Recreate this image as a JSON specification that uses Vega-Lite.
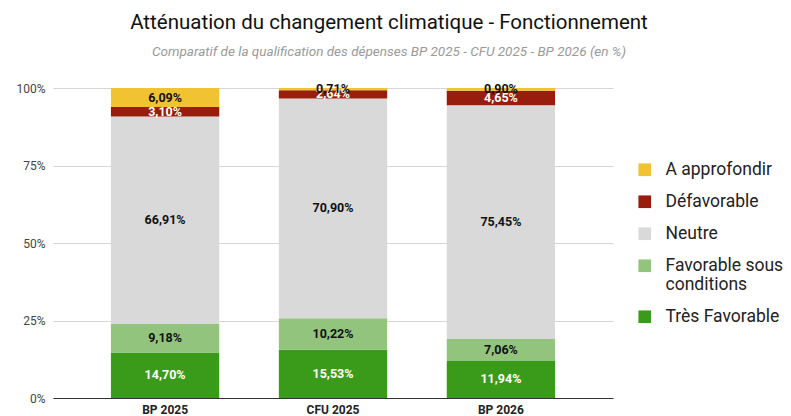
{
  "$schema": "https://vega.github.io/schema/vega-lite/v6.json",
  "width": 560,
  "height": 310,
  "autosize": {"type": "none"},
  "padding": {"left": 53, "top": 88, "right": 178, "bottom": 18},
  "background": "white",
  "config": {"view": {"stroke": null}, "font": "Roboto"},
  "title": {
    "text": "Atténuation du changement climatique - Fonctionnement",
    "subtitle": "Comparatif de la qualification des dépenses BP 2025 - CFU 2025 - BP 2026 (en %)",
    "anchor": "middle",
    "dx": 56,
    "offset": 24,
    "font": "Roboto",
    "fontSize": 20.5,
    "fontWeight": "normal",
    "color": "#111111",
    "subtitleFont": "Roboto",
    "subtitleFontSize": 13.5,
    "subtitleFontStyle": "italic",
    "subtitleColor": "#9a9a9a",
    "subtitlePadding": 11
  },
  "data": {
    "values": [
      {"periode": "BP 2025", "categorie": "Très Favorable", "rang": 1, "valeur": 14.70, "label": "14,70%"},
      {"periode": "BP 2025", "categorie": "Favorable sous conditions", "rang": 2, "valeur": 9.18, "label": "9,18%"},
      {"periode": "BP 2025", "categorie": "Neutre", "rang": 3, "valeur": 66.91, "label": "66,91%"},
      {"periode": "BP 2025", "categorie": "Défavorable", "rang": 4, "valeur": 3.10, "label": "3,10%"},
      {"periode": "BP 2025", "categorie": "A approfondir", "rang": 5, "valeur": 6.09, "label": "6,09%"},
      {"periode": "CFU 2025", "categorie": "Très Favorable", "rang": 1, "valeur": 15.53, "label": "15,53%"},
      {"periode": "CFU 2025", "categorie": "Favorable sous conditions", "rang": 2, "valeur": 10.22, "label": "10,22%"},
      {"periode": "CFU 2025", "categorie": "Neutre", "rang": 3, "valeur": 70.90, "label": "70,90%"},
      {"periode": "CFU 2025", "categorie": "Défavorable", "rang": 4, "valeur": 2.64, "label": "2,64%"},
      {"periode": "CFU 2025", "categorie": "A approfondir", "rang": 5, "valeur": 0.71, "label": "0,71%"},
      {"periode": "BP 2026", "categorie": "Très Favorable", "rang": 1, "valeur": 11.94, "label": "11,94%"},
      {"periode": "BP 2026", "categorie": "Favorable sous conditions", "rang": 2, "valeur": 7.06, "label": "7,06%"},
      {"periode": "BP 2026", "categorie": "Neutre", "rang": 3, "valeur": 75.45, "label": "75,45%"},
      {"periode": "BP 2026", "categorie": "Défavorable", "rang": 4, "valeur": 4.65, "label": "4,65%"},
      {"periode": "BP 2026", "categorie": "A approfondir", "rang": 5, "valeur": 0.90, "label": "0,90%"}
    ]
  },
  "encoding": {
    "x": {
      "field": "periode",
      "type": "nominal",
      "sort": ["BP 2025", "CFU 2025", "BP 2026"],
      "scale": {"paddingInner": 0.355, "paddingOuter": 0.345},
      "axis": {
        "title": null,
        "labelAngle": 0,
        "labelFont": "Roboto",
        "labelFontSize": 12,
        "labelFontWeight": "bold",
        "labelColor": "#222222",
        "ticks": false,
        "domainColor": "#333333",
        "domainWidth": 1.2,
        "labelPadding": 6
      }
    },
    "y": {
      "field": "valeur",
      "type": "quantitative",
      "stack": "zero",
      "scale": {"domain": [0, 100]},
      "axis": {
        "title": null,
        "values": [0, 25, 50, 75, 100],
        "labelExpr": "datum.value + '%'",
        "labelFont": "Roboto",
        "labelFontSize": 12,
        "labelColor": "#444444",
        "ticks": false,
        "domain": false,
        "gridColor": "#d6d6d6",
        "labelPadding": 8
      }
    },
    "order": {"field": "rang", "type": "quantitative", "sort": "ascending"}
  },
  "layer": [
    {
      "mark": {"type": "bar"},
      "encoding": {
        "color": {
          "field": "categorie",
          "type": "nominal",
          "scale": {
            "domain": ["A approfondir", "Défavorable", "Neutre", "Favorable sous conditions", "Très Favorable"],
            "range": ["#f1c232", "#981d0c", "#d9d9d9", "#93c47d", "#3a9a1a"]
          },
          "legend": {
            "title": null,
            "orient": "none",
            "legendX": 583,
            "legendY": 73,
            "symbolType": "square",
            "symbolSize": 160,
            "symbolStrokeWidth": 0,
            "labelFont": "Roboto",
            "labelFontSize": 17.5,
            "labelColor": "#222222",
            "rowPadding": 13,
            "labelOffset": 12,
            "labelLimit": 220,
            "labelExpr": "datum.label == 'Favorable sous conditions' ? ['Favorable sous', 'conditions'] : datum.label"
          }
        }
      }
    },
    {
      "mark": {"type": "text", "font": "Roboto", "fontSize": 12.5, "fontWeight": "bold"},
      "encoding": {
        "y": {"field": "valeur", "type": "quantitative", "stack": "zero", "bandPosition": 0.5},
        "text": {"field": "label"},
        "color": {
          "condition": {"test": "datum.categorie == 'Très Favorable' || datum.categorie == 'Défavorable'", "value": "#ffffff"},
          "value": "#111111"
        }
      }
    }
  ]
}
